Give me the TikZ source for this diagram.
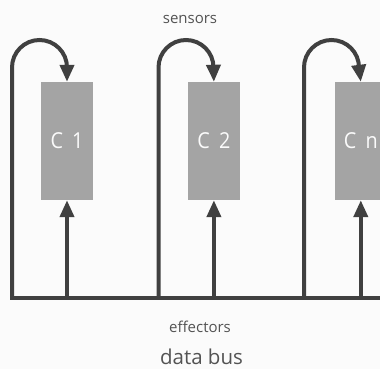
\documentclass[tikz,border=0pt]{standalone}
\usepackage{fontspec}
\setmainfont{Open Sans}
\newfontfamily\unitfont[FakeStretch=0.9]{Open Sans}
\usetikzlibrary{arrows.meta,positioning}
\definecolor{Wire}{HTML}{404040}
\definecolor{Unit}{HTML}{A4A4A4}
\definecolor{Paper}{HTML}{FBFBFB}

\begin{document}
\begin{tikzpicture}[
 x=1pt,y=1pt,
 node distance=94.5pt,
 u/.style={fill=Unit,minimum width=52pt,minimum height=118pt,inner sep=0pt,font=\unitfont\fontsize{22}{22}\selectfont,text=Paper},
 w/.style={line width=4pt,draw=Wire},
 a/.style={w,-{Triangle[length=17pt,width=14pt]}},
 t/.style={font=\fontsize{15}{15}\selectfont,text=Wire!90,anchor=base}
]
\fill[Paper] (0,0) rectangle (380,369);
\useasboundingbox (0,0) rectangle (380,369);
% controllers
\node[u] (c1) at (67,228) {C\hspace{4pt} 1};
\node[u,right=of c1] (c2) {C\hspace{4pt} 2};
\node[u,right=of c2] (cn) {C\hspace{4pt} n};
% taps on the bus
\coordinate (l1) at (12,71);
\coordinate (l2) at (158.5,71);
\coordinate (ln) at (304,71);
\coordinate (e1) at (c1.center |- l1);
\coordinate (e2) at (c2.center |- l1);
\coordinate (en) at (cn.center |- l1);
\coordinate (end) at (390,71);
% bus
\draw[w,line cap=rect] (l1) -- (end);
% sensor loops
\draw[a] (l1) -- ++(0,230.5) arc[start angle=180,end angle=0,radius=27.5] -- (c1.north);
\draw[a] (l2) -- ++(0,230.5) arc[start angle=180,end angle=0,radius=27.5] -- (c2.north);
\draw[a] (ln) -- ++(0,230.5) arc[start angle=180,end angle=0,radius=27.5] -- (cn.north);
% effector lines
\draw[a] (e1) -- (c1.south);
\draw[a] (e2) -- (c2.south);
\draw[a] (en) -- (cn.south);
% labels
\node[t] (sens) at (190,345) {sensors};
\node[t] (eff) at (200,36) {effectors};
\node[t,font=\fontsize{20.5}{20.5}\selectfont] (bus) at (201.5,4) {data bus};
\end{tikzpicture}
\end{document}
